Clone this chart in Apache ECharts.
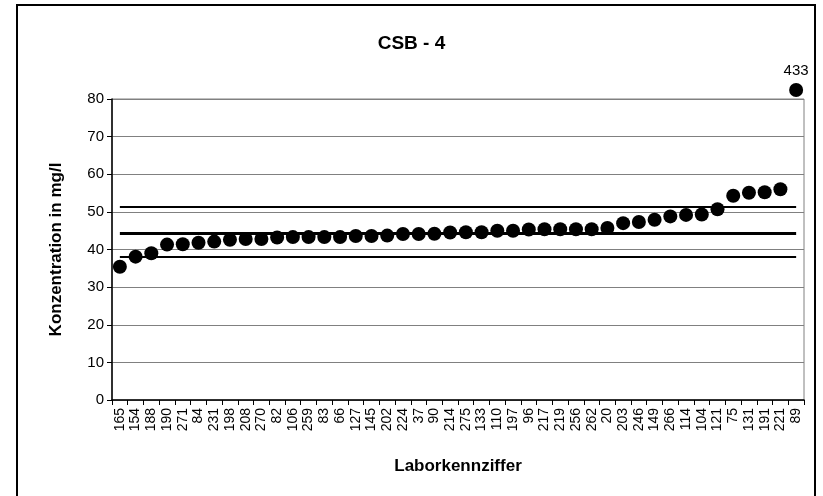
<!DOCTYPE html>
<html>
<head>
<meta charset="utf-8">
<script src="https://cdn.jsdelivr.net/npm/echarts@6/dist/echarts.min.js"></script>
<style>
  html, body { margin: 0; padding: 0; background: #fff; }
  #chart { width: 823px; height: 496px; }
</style>
</head>
<body>
<div id="chart"></div>
<script>
  // Laborkennziffern (sortiert nach Messwert)
  var labs = ['165', '154', '188', '190', '271', '84', '231', '198', '208', '270',
    '82', '106', '259', '83', '66', '127', '145', '202', '224', '37',
    '90', '214', '275', '133', '110', '197', '96', '217', '219', '256',
    '262', '20', '203', '246', '149', '266', '114', '104', '121', '75',
    '131', '191', '221', '89'];
  // Konzentration in mg/l
  var values = [35.4, 38.1, 39.0, 41.3, 41.4, 41.8, 42.1, 42.6, 42.8, 42.8,
    43.2, 43.3, 43.3, 43.3, 43.3, 43.6, 43.6, 43.7, 44.1, 44.1,
    44.2, 44.5, 44.6, 44.6, 45.0, 45.0, 45.3, 45.4, 45.4, 45.4,
    45.4, 45.7, 47.0, 47.3, 47.9, 48.8, 49.2, 49.3, 50.7, 54.3,
    55.1, 55.2, 56.0, 433];
  // Toleranzgrenzen und Mittelwert
  var upperLimit = 51.4;
  var meanValue = 44.4;
  var lowerLimit = 38.1;
  var yTicks = [0, 10, 20, 30, 40, 50, 60, 70, 80];
  var yCap = 82.4; // Ausreisser oberhalb der Achse

  var chart = echarts.init(document.getElementById('chart'));

  var pts = values.map(function (v) {
    if (v > yTicks[yTicks.length - 1]) {
      return {
        value: yCap,
        label: { show: true, position: 'top', distance: 5, formatter: String(v),
          color: '#000', fontSize: 15, fontFamily: 'Liberation Sans' }
      };
    }
    return v;
  });

  function hline(y, w) {
    return [
      { coord: [labs[0], y], lineStyle: { color: '#000', width: w, type: 'solid' } },
      { coord: [labs[labs.length - 1], y] }
    ];
  }

  var option = {
    animation: false,
    title: {
      text: 'CSB - 4',
      left: 'center',
      top: 29,
      textStyle: { fontFamily: 'Liberation Sans', fontSize: 19, fontWeight: 'bold', color: '#000' }
    },
    graphic: [{
      type: 'rect',
      shape: { x: 17, y: 5, width: 798, height: 530 },
      style: { fill: 'none', stroke: '#000', lineWidth: 2 }
    }],
    grid: {
      left: 112, right: 19, top: 99, bottom: 96,
      show: true, borderColor: '#808080', borderWidth: 1
    },
    xAxis: {
      type: 'category',
      data: labs,
      name: 'Laborkennziffer',
      nameLocation: 'middle',
      nameGap: 58,
      nameTextStyle: { fontFamily: 'Liberation Sans', fontSize: 17, fontWeight: 'bold', color: '#000' },
      axisLine: { lineStyle: { color: '#000', width: 1.5 } },
      axisTick: { show: true, length: 5, lineStyle: { color: '#000' } },
      axisLabel: { interval: 0, rotate: 90, fontFamily: 'Liberation Sans', fontSize: 14, color: '#000', margin: 8 },
      splitLine: { show: false }
    },
    yAxis: {
      type: 'value',
      min: yTicks[0],
      max: yTicks[yTicks.length - 1],
      interval: 10,
      name: 'Konzentration in mg/l',
      nameLocation: 'middle',
      nameGap: 47,
      nameTextStyle: { fontFamily: 'Liberation Sans', fontSize: 17, fontWeight: 'bold', color: '#000' },
      axisLine: { show: true, lineStyle: { color: '#000', width: 1.5 } },
      axisTick: { show: true, length: 5, lineStyle: { color: '#000' } },
      axisLabel: { fontFamily: 'Liberation Sans', fontSize: 15, color: '#000', margin: 8 },
      splitLine: { show: true, lineStyle: { color: '#808080', width: 1 } }
    },
    series: [{
      type: 'scatter',
      data: pts,
      clip: false,
      symbol: 'circle',
      symbolSize: 14,
      itemStyle: { color: '#000', opacity: 1 },
      z: 3,
      markLine: {
        silent: true,
        symbol: 'none',
        label: { show: false },
        z: 2,
        data: [hline(upperLimit, 2), hline(meanValue, 3), hline(lowerLimit, 2)]
      }
    }]
  };

  chart.setOption(option);
</script>
</body>
</html>
